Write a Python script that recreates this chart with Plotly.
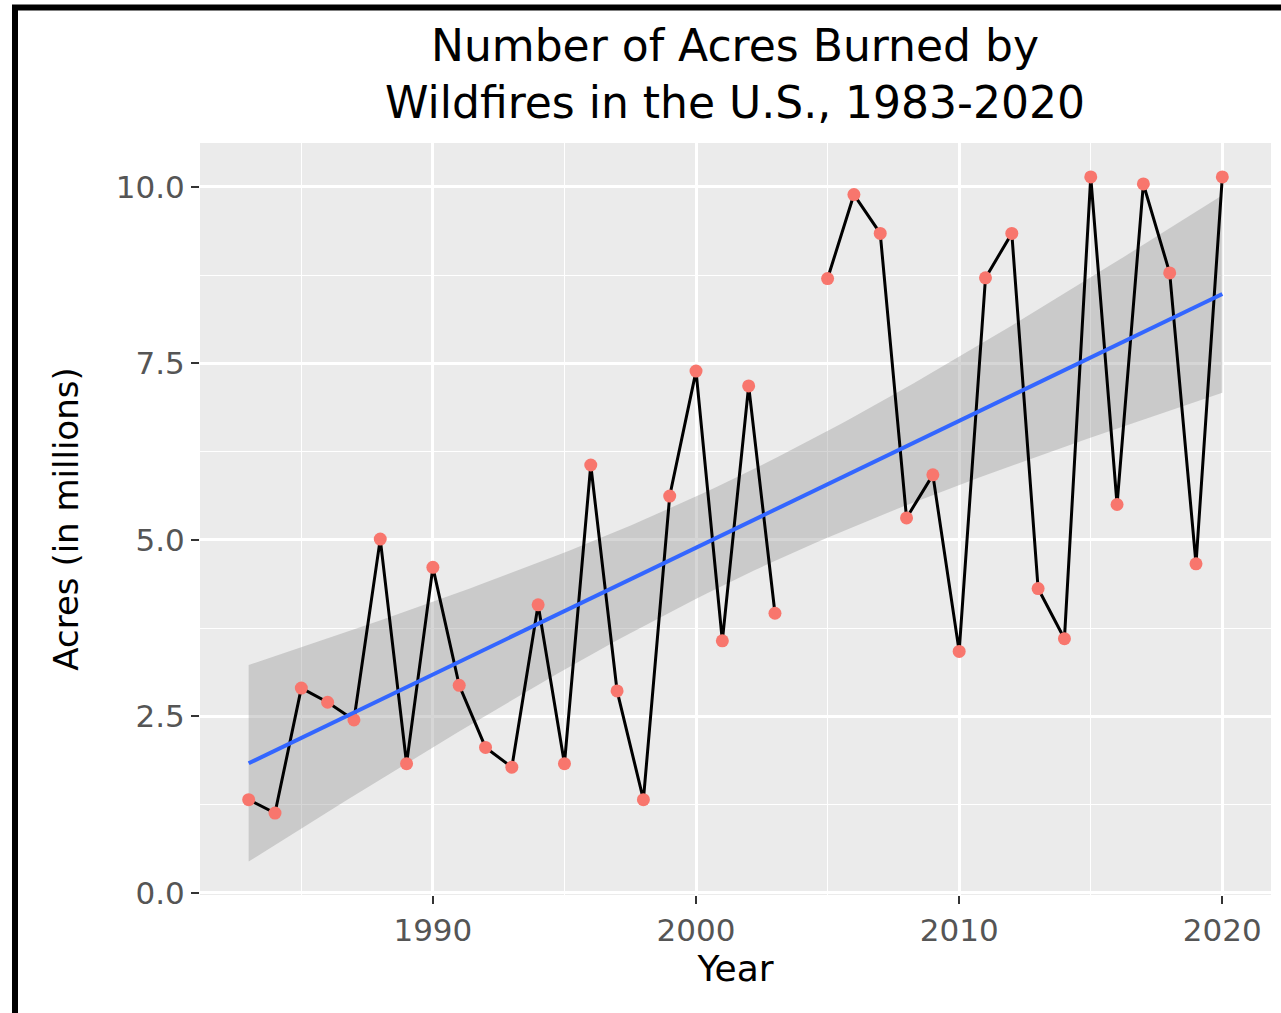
import numpy as np
import plotly.graph_objects as go

# ---- data ----
years = list(range(1983, 2021))
acres_millions = [
    1.32, 1.13, 2.90, 2.70, 2.45, 5.01, 1.83, 4.61, 2.94, 2.06,
    1.78, 4.08, 1.83, 6.06, 2.86, 1.32, 5.62, 7.39, 3.57, 7.18,
    3.96, None, 8.70, 9.89, 9.34, 5.31, 5.92, 3.42, 8.71, 9.34,
    4.31, 3.60, 10.14, 5.50, 10.04, 8.78, 4.66, 10.14,
]
x_tick_vals = [1990, 2000, 2010, 2020]
y_tick_vals = [0.0, 2.5, 5.0, 7.5, 10.0]
y_tick_text = ["0.0", "2.5", "5.0", "7.5", "10.0"]
title_text = "Number of Acres Burned by<br>Wildfires in the U.S., 1983-2020"

# ---- linear fit with 95% confidence band (like geom_smooth(method="lm")) ----
xv = np.array([x for x, y in zip(years, acres_millions) if y is not None], float)
yv = np.array([y for y in acres_millions if y is not None], float)
n = len(xv)
slope, intercept = np.polyfit(xv, yv, 1)
resid = yv - (slope * xv + intercept)
s = np.sqrt(np.sum(resid ** 2) / (n - 2))
xbar = xv.mean()
sxx = np.sum((xv - xbar) ** 2)
xs = np.linspace(xv.min(), xv.max(), 80)
fit = slope * xs + intercept
t_crit = 2.0301  # t(0.975, df=35)
se = s * np.sqrt(1.0 / n + (xs - xbar) ** 2 / sxx)
upper = fit + t_crit * se
lower = fit - t_crit * se

FONT = "DejaVu Sans"

fig = go.Figure()
fig.add_trace(go.Scatter(
    x=np.concatenate([xs, xs[::-1]]), y=np.concatenate([upper, lower[::-1]]),
    fill="toself", fillcolor="rgba(153,153,153,0.4)", line=dict(width=0),
    mode="lines", hoverinfo="skip", showlegend=False))
fig.add_trace(go.Scatter(
    x=years, y=acres_millions, mode="lines",
    line=dict(color="black", width=3), connectgaps=False, showlegend=False))
fig.add_trace(go.Scatter(
    x=years, y=acres_millions, mode="markers",
    marker=dict(color="#F8766D", size=13), showlegend=False))
fig.add_trace(go.Scatter(
    x=xs, y=fit, mode="lines", line=dict(color="#3366FF", width=4),
    showlegend=False))

axis_common = dict(
    showgrid=True, gridcolor="white", gridwidth=2.5, zeroline=False,
    ticks="outside", ticklen=8, tickwidth=2, tickcolor="#333333",
    showline=False, tickfont=dict(family=FONT, size=31, color="#555555"),
)
fig.update_xaxes(
    **axis_common, range=[1981.15, 2021.85], tickvals=x_tick_vals,
    minor=dict(tickvals=[1985, 1995, 2005, 2015], showgrid=True,
               gridcolor="white", gridwidth=1.2, ticks=""),
    title=dict(text="Year", font=dict(family=FONT, size=36, color="black"),
               standoff=6),
)
fig.update_yaxes(
    **axis_common, range=[-0.03, 10.62], tickvals=y_tick_vals,
    ticktext=y_tick_text,
    minor=dict(tickvals=[1.25, 3.75, 6.25, 8.75], showgrid=True,
               gridcolor="white", gridwidth=1.2, ticks=""),
    title=dict(text="Acres (in millions)",
               font=dict(family=FONT, size=34, color="black"), standoff=26),
)

L, R, T, B = 200, 10, 143, 118
W, H = 1281, 1013
pw, ph = W - L - R, H - T - B

def px_x(px):
    return (px - L) / pw

def px_y(py):
    return (H - B - py) / ph

fig.update_layout(
    width=W, height=H,
    margin=dict(l=L, r=R, t=T, b=B),
    paper_bgcolor="white", plot_bgcolor="#EBEBEB",
    annotations=[dict(
        text=title_text, xref="paper", yref="paper", x=px_x(735), y=px_y(74),
        xanchor="center", yanchor="middle", showarrow=False, align="center",
        font=dict(family=FONT, size=44, color="black"))],
    shapes=[dict(type="rect", xref="paper", yref="paper",
                 x0=px_x(15), x1=px_x(1300), y0=px_y(1030), y1=px_y(7.5),
                 line=dict(color="black", width=6), fillcolor="rgba(0,0,0,0)")],
)

fig.write_html("out.html")
